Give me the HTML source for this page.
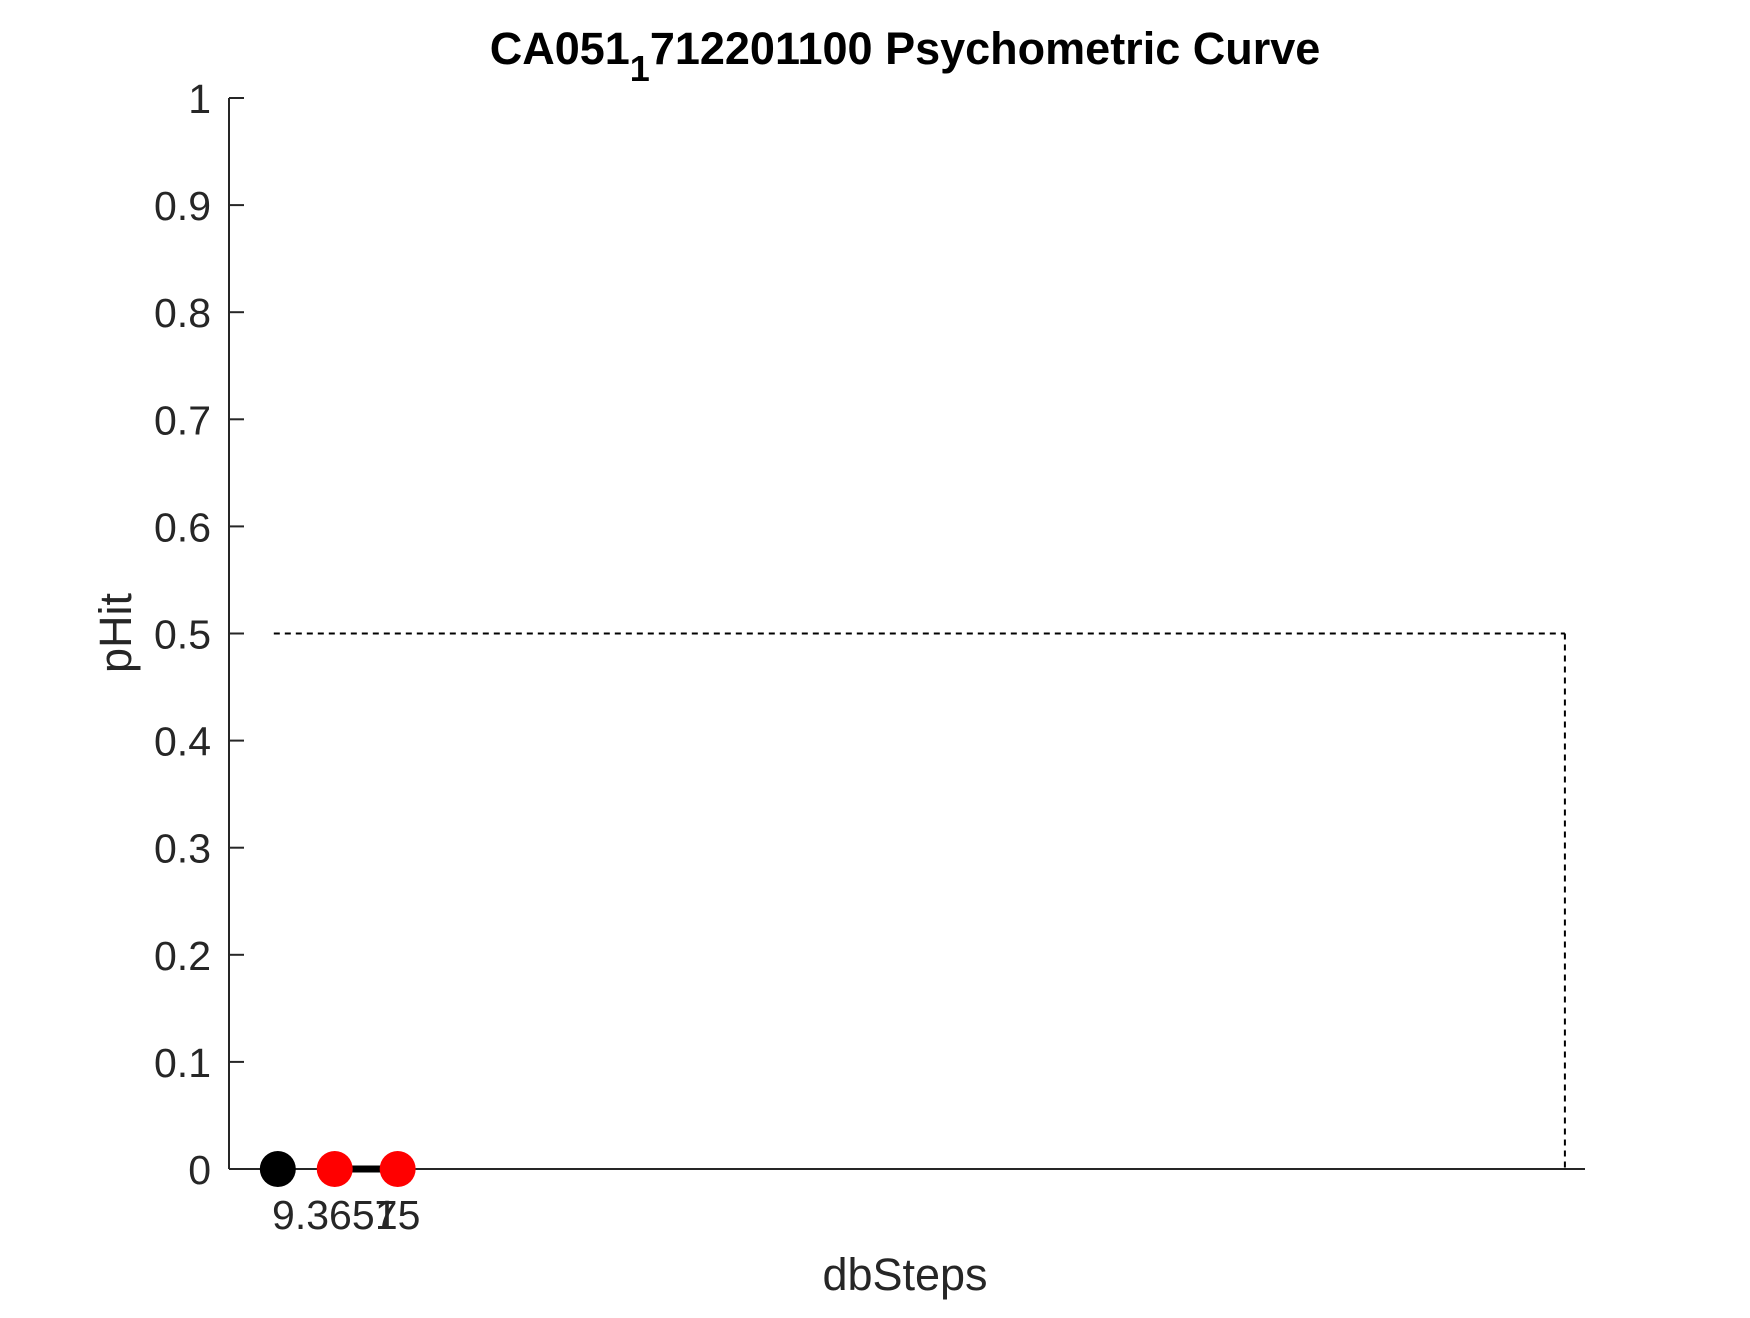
<!DOCTYPE html>
<html><head><meta charset="utf-8"><style>
html,body{margin:0;padding:0;background:#fff;}
svg text{font-family:"Liberation Sans",Arial,sans-serif;}
</style></head><body>
<svg id="chart" width="1750" height="1313" viewBox="0 0 1750 1313" xmlns="http://www.w3.org/2000/svg">
<rect width="1750" height="1313" fill="#fff"/>
<text x="905" y="64" text-anchor="middle" font-size="45" font-weight="bold" fill="#000">CA051<tspan dy="17" font-size="36">1</tspan><tspan dy="-17">712201100 Psychometric Curve</tspan></text>
<g id="axes"></g>
<g id="marks"></g>
<text x="905" y="1290" text-anchor="middle" font-size="45" fill="#262626">dbSteps</text>
<text transform="translate(131,633) rotate(-90)" text-anchor="middle" font-size="45" fill="#262626">pHit</text>
</svg>
<script>
const yTicks = [0,0.1,0.2,0.3,0.4,0.5,0.6,0.7,0.8,0.9,1];
const yTickLabels = ["0","0.1","0.2","0.3","0.4","0.5","0.6","0.7","0.8","0.9","1"];
const xTicks = [9.3657, 15];
const xTickLabels = ["9.3657","15"];
const catchX = [4.27];
const catchY = [0];
const hitX = [9.3657, 15];
const hitY = [0, 0];
const thresholdY = [0.5];
const thresholdX = [119.5];
const xDomain = [-0.1, 121.3];

const L=229,R=1585,T=98,B=1169;
function sx(v){return L+(v-xDomain[0])/(xDomain[1]-xDomain[0])*(R-L);}
function sy(v){return B-(v-0)/(1-0)*(B-T);}
const NS="http://www.w3.org/2000/svg";
function mk(tag,attrs,parent){const e=document.createElementNS(NS,tag);for(const k in attrs)e.setAttribute(k,attrs[k]);parent.appendChild(e);return e;}
const axes=document.getElementById('axes'), marks=document.getElementById('marks');

let e=mk('line',{x1:L,y1:T,x2:L,y2:B,stroke:'#262626','stroke-width':2},axes);


e=mk('line',{x1:L,y1:B,x2:R,y2:B,stroke:'#262626','stroke-width':2},axes);


yTicks.forEach((v,i)=>{
  const t=mk('line',{x1:L,y1:sy(v),x2:L+15,y2:sy(v),stroke:'#262626','stroke-width':2},axes);
  
  
  const l=mk('text',{x:211,y:sy(v)+15,'text-anchor':'end','font-size':41,fill:'#262626'},axes);
  l.textContent=yTickLabels[i];
  
  
});
xTicks.forEach((v,i)=>{
  const l=mk('text',{x:sx(v),y:1229,'text-anchor':'middle','font-size':41,fill:'#262626'},axes);
  l.textContent=xTickLabels[i];
  
  
});
e=mk('line',{x1:sx(4.27)-4,y1:sy(thresholdY[0]),x2:sx(thresholdX[0]),y2:sy(thresholdY[0]),stroke:'#000','stroke-width':2,'stroke-dasharray':'6,5'},marks);


e=mk('line',{x1:sx(thresholdX[0]),y1:sy(thresholdY[0]),x2:sx(thresholdX[0]),y2:sy(0),stroke:'#000','stroke-width':2,'stroke-dasharray':'6,5'},marks);


e=mk('polyline',{points:hitX.map((x,i)=>sx(x)+','+sy(hitY[i])).join(' '),fill:'none',stroke:'#000','stroke-width':7},marks);


catchX.forEach((x,i)=>{
  const c=mk('circle',{cx:sx(x),cy:sy(catchY[i]),r:18,fill:'#000'},marks);
  
  
});
hitX.forEach((x,i)=>{
  const c=mk('circle',{cx:sx(x),cy:sy(hitY[i]),r:18,fill:'#f00'},marks);
  
  
});
</script>
</body></html>
